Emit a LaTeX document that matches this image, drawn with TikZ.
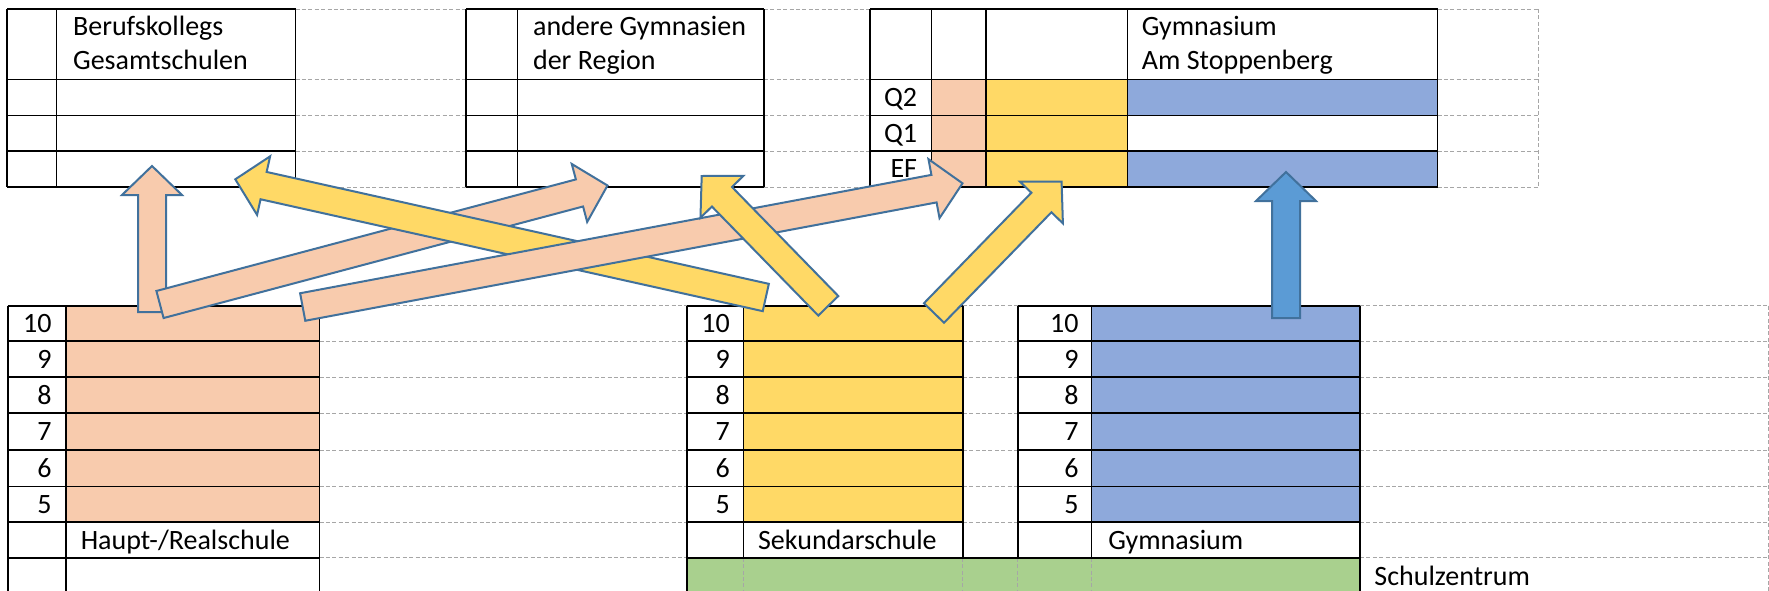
\documentclass[tikz,border=0pt]{standalone}
\usepackage{fontspec}
\setmainfont{Carlito}
\usetikzlibrary{calc}
\definecolor{peach}{HTML}{F8CBAD}
\definecolor{gold}{HTML}{FFD966}
\definecolor{tblue}{HTML}{8EA9DB}
\definecolor{tgreen}{HTML}{A9D08E}
\definecolor{ablue}{HTML}{5B9BD5}
\definecolor{aline}{HTML}{41719C}
\definecolor{dgray}{HTML}{A6A6A6}
\newcommand{\bawid}{7pt}
\newcommand{\bahead}{15pt}
\newcommand{\balen}{14.5pt}
\newcommand{\blockarrow}[3]{%
  \path ($(#3)!\balen!(#2)$) coordinate (ba-c);
  \draw[#1] ($(#2)!\bawid!90:(#3)$) -- ($(ba-c)!\bawid!90:(#3)$) -- ($(ba-c)!\bahead!90:(#3)$) -- (#3)
    -- ($(ba-c)!\bahead!-90:(#3)$) -- ($(ba-c)!\bawid!-90:(#3)$) -- ($(#2)!\bawid!-90:(#3)$) -- cycle;
}
\begin{document}
\begin{tikzpicture}[x=0.5pt,y=-0.5pt,
  grid/.style={draw=black,line width=0.85pt},
  guide/.style={draw=dgray,line width=0.5pt,dash pattern=on 2pt off 1.2pt},
  lbl/.style={font=\fontsize{14}{16}\selectfont,inner sep=0pt},
  arr/.style={draw=aline,line width=1pt,line join=miter}]
\useasboundingbox (0,0) rectangle (1769,590);
\clip (0,0) rectangle (1769,590);
\fill[white] (0,0) rectangle (1769,590);

% ---------- fills ----------
\fill[peach] (931.5,79.5) rectangle (986,187);
\fill[gold] (986,79.5) rectangle (1127.5,187);
\fill[tblue] (1127.5,79.5) rectangle (1437.5,115.5);
\fill[tblue] (1127.5,151) rectangle (1437.5,187);
\fill[peach] (65.8,305.7) rectangle (319.5,522.3);
\fill[gold] (743.5,305.7) rectangle (962.8,522.3);
\fill[tblue] (1091.4,305.7) rectangle (1360,522.3);
\fill[tgreen] (687,557.7) rectangle (1360,600);

% ---------- top guides ----------
\foreach \y in {9,79.5,115.5,151,187} {
  \draw[guide] (295.5,\y) -- (466,\y);
  \draw[guide] (764,\y) -- (870,\y);
  \draw[guide] (1437.5,\y) -- (1538,\y);
}
\draw[guide] (1538,9) -- (1538,187);

% ---------- top tables ----------
\foreach \y in {9,79.5,115.5,151,187} {
  \draw[grid] (7,\y) -- (295.5,\y);
  \draw[grid] (466,\y) -- (764,\y);
  \draw[grid] (870,\y) -- (1437.5,\y);
}
\foreach \x in {7,56.5,295.5,466,517.5,764,870,931.5,986,1127.5,1437.5}
  \draw[grid] (\x,9) -- (\x,187);

% ---------- bottom guides ----------
\foreach \y in {305.7,341.2,377,413,450,486.5,522.3,557.7} {
  \draw[guide] (319.5,\y) -- (687,\y);
  \draw[guide] (1360,\y) -- (1768,\y);
}
\foreach \y in {305.7,341.2,377,413,450,486.5,522.3}
  \draw[guide] (962.8,\y) -- (1017.9,\y);
\draw[guide] (1768,305.7) -- (1768,600);
\foreach \x in {743.5,962.8,1017.9,1091.4}
  \draw[guide] (\x,557.7) -- (\x,600);

% ---------- bottom tables ----------
\foreach \y in {305.7,341.2,377,413,450,486.5,522.3,557.7} {
  \draw[grid] (7.7,\y) -- (319.5,\y);
  \draw[grid] (687,\y) -- (962.8,\y);
  \draw[grid] (1017.9,\y) -- (1360,\y);
}
\draw[grid] (962.8,557.7) -- (1017.9,557.7);
\foreach \x in {7.7,65.8,319.5}
  \draw[grid] (\x,305.7) -- (\x,600);
\foreach \x in {743.5,962.8,1017.9,1091.4}
  \draw[grid] (\x,305.7) -- (\x,557.7);
\draw[grid] (687,305.7) -- (687,600);
\draw[grid] (1360,305.7) -- (1360,600);

% ---------- texts ----------
\node[lbl,anchor=base west] (t1a) at (72.7,35.5) {Berufskollegs};
\node[lbl,anchor=base west] (t1b) at (72.7,69.5) {Gesamtschulen};
\node[lbl,anchor=base west] (t2a) at (532.7,35.5) {andere Gymnasien};
\node[lbl,anchor=base west] (t2b) at (532.7,69.5) {der Region};
\node[lbl,anchor=base west] (t3a) at (1141.5,35.5) {Gymnasium};
\node[lbl,anchor=base west] (t3b) at (1141.5,69.5) {Am Stoppenberg};
\node[lbl,anchor=base east] (q2) at (917.5,106.3) {Q2};
\node[lbl,anchor=base east] (q1) at (917.5,142.2) {Q1};
\node[lbl,anchor=base east] (ef) at (917.5,177.8) {EF};

\foreach \n/\b in {10/332.5,9/368.1,8/404,7/440.5,6/477.3,5/513.4} {
  \node[lbl,anchor=base east] (hr-\n) at (52,\b) {\n};
  \node[lbl,anchor=base east] (sk-\n) at (730.2,\b) {\n};
  \node[lbl,anchor=base east] (gy-\n) at (1079,\b) {\n};
}
\node[lbl,anchor=base west] (hrname) at (80.4,549) {Haupt-/Realschule};
\node[lbl,anchor=base west] (skname) at (757.7,549) {Sekundarschule};
\node[lbl,anchor=base west] (gyname) at (1108,549) {Gymnasium};
\node[lbl,anchor=base west] (szname) at (1374,585) {Schulzentrum};

% ---------- arrows ----------
\coordinate (a1t) at (152,312);    \coordinate (a1h) at (152,166);
\coordinate (a2t) at (160,304.5);  \coordinate (a2h) at (607.5,185.5);
\coordinate (a3t) at (765.8,297.5);\coordinate (a3h) at (235.3,179.3);
\coordinate (a4t) at (302.7,307);  \coordinate (a4h) at (962.5,183.3);
\coordinate (a5t) at (828.3,305.8);\coordinate (a5h) at (701.7,176);
\coordinate (a6t) at (934,313);    \coordinate (a6h) at (1061.6,181.7);
\coordinate (a7t) at (1286,318);   \coordinate (a7h) at (1286,172);

\blockarrow{arr,fill=peach}{a1t}{a1h}
\blockarrow{arr,fill=peach}{a2t}{a2h}
\blockarrow{arr,fill=gold}{a3t}{a3h}
\blockarrow{arr,fill=peach}{a4t}{a4h}
\blockarrow{arr,fill=gold}{a5t}{a5h}
\blockarrow{arr,fill=gold}{a6t}{a6h}
\blockarrow{arr,fill=ablue}{a7t}{a7h}
\end{tikzpicture}
\end{document}
